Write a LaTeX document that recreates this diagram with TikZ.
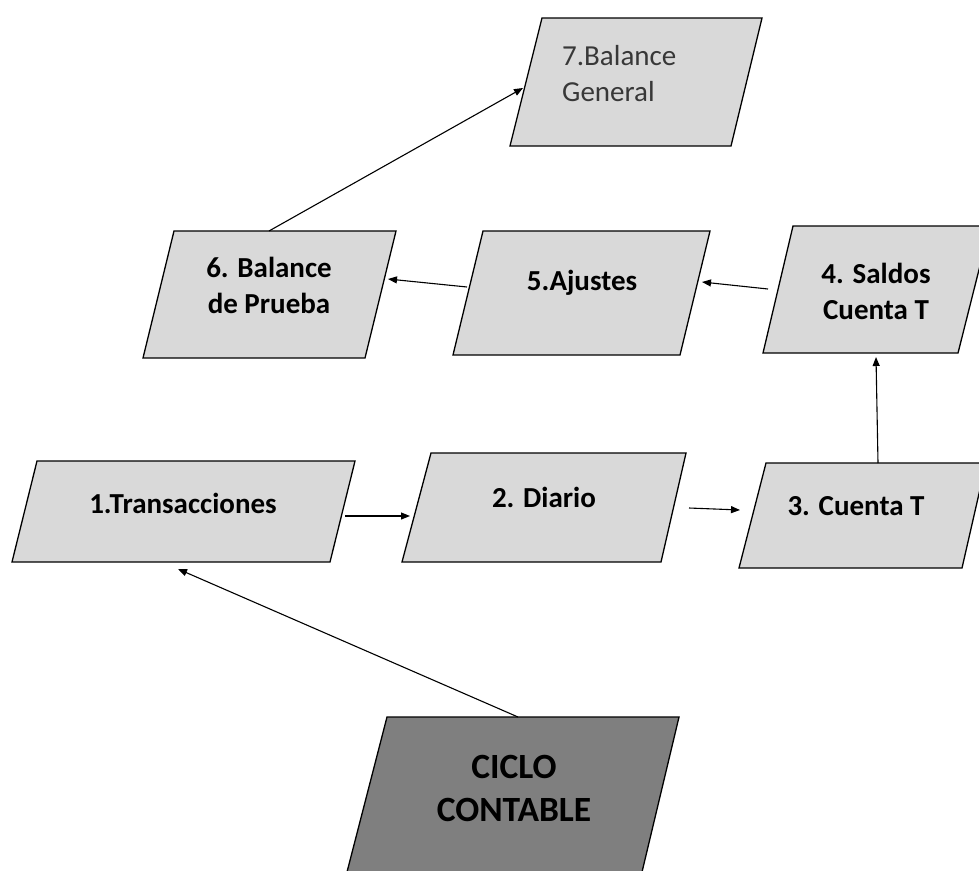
\documentclass[tikz,border=0pt]{standalone}
\usepackage{fontspec}
\setmainfont{Carlito}
\usetikzlibrary{arrows.meta}
\definecolor{boxfill}{HTML}{D9D9D9}
\definecolor{darkfill}{HTML}{7F7F7F}
\definecolor{softtext}{HTML}{383838}
\tikzset{
  shapebox/.style={draw=black, line width=1.3pt, fill=boxfill, line join=miter},
  darkbox/.style={draw=black, line width=1.3pt, fill=darkfill},
  label/.style={inner sep=0pt, font=\fontsize{29}{36}\selectfont\bfseries, align=center},
  biglabel/.style={inner sep=0pt, font=\fontsize{35.5}{43}\selectfont\bfseries, align=center},
  conn/.style={draw=black, line width=1.1pt, -{Triangle[length=9pt,width=7pt]}}
}
\begin{document}
\begin{tikzpicture}[x=1pt,y=-1pt]
\useasboundingbox (0,0) rectangle (979,870);
\begin{scope}
\clip (0,0) rectangle (979,870);
% boxes
\draw[shapebox] (542,18) -- (762,18) -- (731,146) -- (510,146) -- cycle;
\draw[shapebox] (174,231) -- (396,231) -- (365,358) -- (143,358) -- cycle;
\draw[shapebox] (483,231) -- (710,231) -- (680,355) -- (453,355) -- cycle;
\draw[shapebox] (793,226) -- (990,226) -- (958,353) -- (763,353) -- cycle;
\draw[shapebox] (37,461) -- (355,461) -- (330,562) -- (12,562) -- cycle;
\draw[shapebox] (431,453) -- (686,453) -- (661,562) -- (402,562) -- cycle;
\draw[shapebox] (766,463) -- (986,463) -- (962,568) -- (739,568) -- cycle;
\draw[darkbox] (387,717) -- (679,717) -- (642,872) -- (347,872) -- cycle;
\end{scope}
% labels
\node[inner sep=0pt, font=\fontsize{29}{36}\selectfont, text=softtext, align=left, anchor=west] (t7) at (562,74) {7.Balance\\General};
\node[label] (t6) at (269,285) {6. Balance\\de Prueba};
\node[label, anchor=base] (t5) at (582,290) {5.Ajustes};
\node[label] (t4) at (876,291) {4. Saldos\\Cuenta T};
\node[label, anchor=base] (t1) at (183,513) {1.Transacciones};
\node[label, anchor=base] (t2) at (544,507) {2. Diario};
\node[label, anchor=base] (t3) at (856,515) {3. Cuenta T};
\node[biglabel] (t0) at (514,788) {CICLO\\CONTABLE};
% connector endpoints
\coordinate (c0top) at (518,717);
\coordinate (c1bot) at (178,569);
\coordinate (c1r) at (345,516);
\coordinate (c2l) at (410,516);
\coordinate (c2r) at (689,508);
\coordinate (c3l) at (740,510);
\coordinate (c3top) at (878,463);
\coordinate (c4bot) at (876,357);
\coordinate (c4l) at (768,289);
\coordinate (c5r) at (702,282);
\coordinate (c5l) at (467,287);
\coordinate (c6r) at (388,279);
\coordinate (c6top) at (269,231);
\coordinate (c7l) at (523,88);
% connectors
\draw[conn] (c0top) -- (c1bot);
\draw[conn] (c1r) -- (c2l);
\draw[conn] (c2r) -- (c3l);
\draw[conn] (c3top) -- (c4bot);
\draw[conn] (c4l) -- (c5r);
\draw[conn] (c5l) -- (c6r);
\draw[conn] (c6top) -- (c7l);
\end{tikzpicture}
\end{document}
